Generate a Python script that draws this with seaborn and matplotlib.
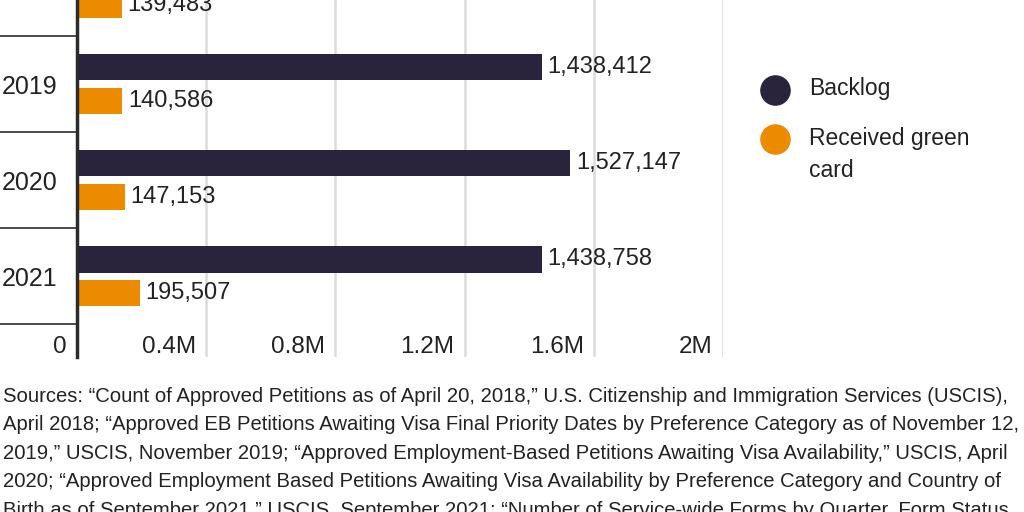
import numpy as np
import pandas as pd
import matplotlib
matplotlib.use("Agg")
import matplotlib.pyplot as plt
import matplotlib.transforms as mtransforms
from matplotlib.lines import Line2D
import seaborn as sns

# Data (2018 backlog bar lies above the visible crop)
years = ["2018", "2019", "2020", "2021"]
backlog = [np.nan, 1438412, 1527147, 1438758]
received = [139483, 140586, 147153, 195507]
series = ["Backlog", "Received green card"]
legend_lines = [["Backlog"], ["Received green", "card"]]
xticks = [0, 400000, 800000, 1200000, 1600000, 2000000]
xtick_labels = ["0", "0.4M", "0.8M", "1.2M", "1.6M", "2M"]

footer = (
    "Sources: \u201cCount of Approved Petitions as of April 20, 2018,\u201d U.S. Citizenship and Immigration Services (USCIS),\n"
    "April 2018; \u201cApproved EB Petitions Awaiting Visa Final Priority Dates by Preference Category as of November 12,\n"
    "2019,\u201d USCIS, November 2019; \u201cApproved Employment-Based Petitions Awaiting Visa Availability,\u201d USCIS, April\n"
    "2020; \u201cApproved Employment Based Petitions Awaiting Visa Availability by Preference Category and Country of\n"
    "Birth as of September 2021,\u201d USCIS, September 2021; \u201cNumber of Service-wide Forms by Quarter, Form Status,"
)

DARK = "#29233c"
ORANGE = "#ed8b00"
TEXT = "#222222"
FONT = ["Liberation Sans", "DejaVu Sans"]

df = pd.DataFrame({
    "Year": years * 2,
    "Series": [series[0]] * len(years) + [series[1]] * len(years),
    "Value": backlog + received,
}).dropna()

sns.set_style("white")
plt.rcParams["font.family"] = FONT

fig = plt.figure(figsize=(10.24, 5.12), dpi=100)
W, H = 1024, 512
ax = fig.add_axes([77 / W, 1 - 357 / H, (723 - 77) / W, 357 / H])

sns.barplot(data=df, x="Value", y="Year", hue="Series", order=years,
            hue_order=series, palette=[DARK, ORANGE], saturation=1,
            orient="h", width=0.7, gap=0.22, linewidth=0, legend=False,
            ax=ax)

for cont in ax.containers:
    ax.bar_label(cont, labels=[f"{v:,.0f}" for v in cont.datavalues],
                 padding=4, fontsize=17, color=TEXT)

ax.set_xlabel("")
ax.set_ylabel("")

# x grid and tick labels inside the plot
for sp in ["top", "right", "bottom"]:
    ax.spines[sp].set_visible(False)
ax.spines["left"].set_color("#2b2b2b")
ax.spines["left"].set_linewidth(2.5)
ax.spines["left"].set_zorder(5)
ax.set_xticks(xticks)
ax.set_xticklabels(xtick_labels)
ax.xaxis.grid(True, color="#dcdcdc", linewidth=1.8)
ax.set_axisbelow(True)
ax.tick_params(axis="x", length=0, pad=-15, labelsize=17.5, labelcolor=TEXT)
off = mtransforms.ScaledTranslation(-10 / 100, 0, fig.dpi_scale_trans)
for lab in ax.get_xticklabels():
    lab.set_horizontalalignment("right")
    lab.set_transform(lab.get_transform() + off)

# year labels and separators
ax.set_yticks(range(len(years)))
ax.set_yticklabels(years)
ax.tick_params(axis="y", length=0, pad=14, labelsize=18, labelcolor=TEXT)
ax.set_yticks([i + 0.5 for i in range(len(years))], minor=True)
ax.tick_params(axis="y", which="minor", left=True, length=77 * 0.72,
               width=1.4, color="#4a4a4a", direction="out")

ax.set_xlim(0, 2000000)
ax.set_ylim(3.84, 0.125)

# legend, drawn by hand so the dot sits on the first line of the label
for i, (c, lines) in enumerate(zip([DARK, ORANGE], legend_lines)):
    cy = 89.5 + 49.5 * i
    fig.add_artist(Line2D([775 / W], [1 - cy / H], linestyle="none",
                          marker="o", markersize=21, color=c,
                          transform=fig.transFigure))
    for j, line in enumerate(lines):
        fig.text(809 / W, 1 - (cy + 6 + 32 * j) / H, line, ha="left",
                 va="baseline", fontsize=16.5, color=TEXT)

fig.text(3 / W, 1 - 387 / H, footer, ha="left", va="top", fontsize=14.6,
         color=TEXT, linespacing=1.63)

fig.savefig("out.png", dpi=100)
